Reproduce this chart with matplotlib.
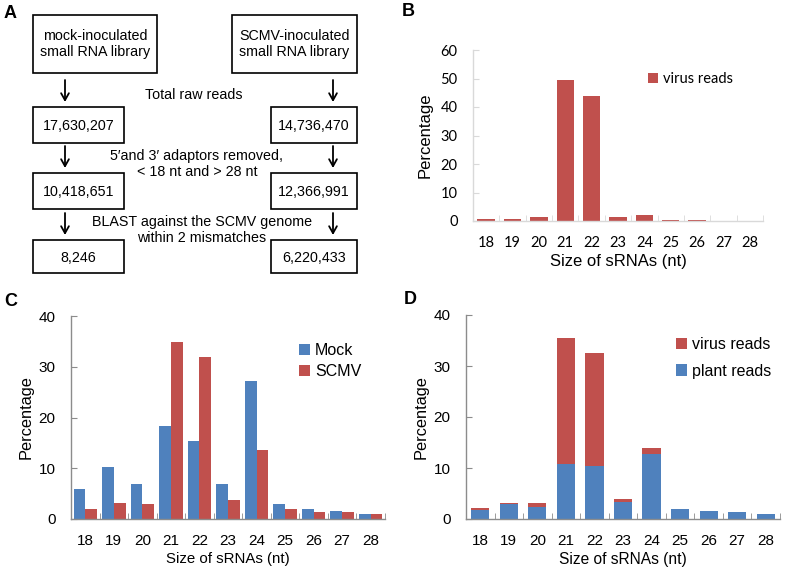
import numpy as np
import matplotlib
matplotlib.use("Agg")
import matplotlib.pyplot as plt
from matplotlib.patches import Rectangle
from matplotlib.ticker import FixedLocator

plt.rcParams["font.family"] = ["Liberation Sans", "DejaVu Sans"]

# ---------------- data ----------------
sizes = ["18", "19", "20", "21", "22", "23", "24", "25", "26", "27", "28"]

# panel B: virus-derived sRNA size distribution (%)
virus_pct = [0.7, 0.8, 1.3, 49.4, 43.7, 1.3, 2.0, 0.4, 0.25, 0.05, 0.03]

# panel C: mock vs SCMV libraries (%)
mock_pct = [5.9, 10.3, 6.8, 18.4, 15.3, 6.9, 27.2, 3.0, 1.9, 1.5, 0.9]
scmv_pct = [1.9, 3.1, 3.0, 34.9, 31.9, 3.8, 13.6, 2.0, 1.4, 1.3, 0.9]

# panel D: SCMV library split into plant / virus reads (%)
plant_pct = [1.8, 2.95, 2.4, 10.7, 10.4, 3.3, 12.8, 1.9, 1.5, 1.4, 1.0]
virus_part = [0.3, 0.25, 0.7, 24.8, 22.2, 0.6, 1.1, 0.1, 0.02, 0.02, 0.01]

# panel A: read counts per library
mock_counts = ["17,630,207", "10,418,651", "8,246"]
scmv_counts = ["14,736,470", "12,366,991", "6,220,433"]
lib_names = ["mock-inoculated\nsmall RNA library", "SCMV-inoculated\nsmall RNA library"]
step_labels = ["Total raw reads",
               "5\u2032and 3\u2032 adaptors removed,\n< 18 nt and > 28 nt",
               "BLAST against the SCMV genome\nwithin 2 mismatches"]

RED = "#C0504D"
BLUE = "#4F81BD"

W, H = 789, 573
fig = plt.figure(figsize=(W / 100, H / 100), dpi=100)


def fx(px):
    return px / W


def fy(py):
    return 1 - py / H


def style_axis(ax, ymax, spine_col, tick_font=None, tick_size=10):
    n = len(sizes)
    x = np.arange(n)
    ax.set_xlim(-0.5, n - 0.5)
    ax.set_ylim(0, ymax)
    ax.set_yticks(np.arange(0, ymax + 1, 10))
    ax.set_xticks(x)
    ax.set_xticklabels(sizes)
    ax.xaxis.set_minor_locator(FixedLocator(np.arange(-0.5, n, 1.0)))
    for s in ["top", "right"]:
        ax.spines[s].set_visible(False)
    for s in ["left", "bottom"]:
        ax.spines[s].set_color(spine_col)
        ax.spines[s].set_linewidth(1.0)
    ax.tick_params(axis="x", which="major", length=0, pad=11, labelsize=tick_size)
    ax.tick_params(axis="x", which="minor", direction="in", length=4, color=spine_col)
    ax.tick_params(axis="y", direction="in", length=4, color=spine_col, pad=11,
                   labelsize=tick_size)
    if tick_font:
        for lab in ax.get_xticklabels() + ax.get_yticklabels():
            lab.set_fontfamily(tick_font)


# ---------------- panel A (flow chart) ----------------
axA = fig.add_axes([0, 0, 1, 1])
axA.set_xlim(0, W)
axA.set_ylim(H, 0)
axA.axis("off")

lib_boxes = [(33, 15, 157, 73), (232, 15, 357, 73)]
for (x0, y0, x1, y1), name in zip(lib_boxes, lib_names):
    axA.add_patch(Rectangle((x0, y0), x1 - x0, y1 - y0, fill=False, lw=1.2, ec="black"))
    axA.text((x0 + x1) / 2, (y0 + y1) / 2, name, ha="center", va="center",
             fontsize=10.3, linespacing=1.25)

rows = [(107, 143), (173, 209), (240, 273)]
for i, (y0, y1) in enumerate(rows):
    for (x0, x1), txt in zip([(33, 124), (271, 357)], [mock_counts[i], scmv_counts[i]]):
        axA.add_patch(Rectangle((x0, y0), x1 - x0, y1 - y0, fill=False, lw=1.2, ec="black"))
        axA.text((x0 + x1) / 2, (y0 + y1) / 2 + 1, txt, ha="center", va="center",
                 fontsize=10.3)

arrow_y = [(80, 102), (146, 168), (213, 235)]
for ya, yb in arrow_y:
    for xa in (65, 333):
        axA.annotate("", xy=(xa, yb), xytext=(xa, ya),
                     arrowprops=dict(arrowstyle="->,head_length=0.5,head_width=0.28",
                                     lw=1.3, color="black", shrinkA=0, shrinkB=0))

step_pos = [(194, 95), (197, 164), (202, 230)]
for (sx, sy), txt in zip(step_pos, step_labels):
    axA.text(sx, sy, txt, ha="center", va="center", fontsize=10.3, linespacing=1.2)

# ---------------- panel B ----------------
axB = fig.add_axes([fx(473), fy(221), fx(763) - fx(473), fy(50) - fy(221)])
x = np.arange(len(sizes))
axB.bar(x, virus_pct, width=0.66, color=RED, label="virus reads")
style_axis(axB, 60, "#D9D9D9", tick_font="Lato", tick_size=10.5)
axB.set_xlabel("Size of sRNAs (nt)", fontsize=12, labelpad=3)
axB.set_ylabel("Percentage", fontsize=12, labelpad=6)
axB.legend(loc="center left", bbox_to_anchor=(fx(648), fy(79)),
           bbox_transform=fig.transFigure, frameon=False, borderpad=0,
           borderaxespad=0, handlelength=0.7, handleheight=0.7,
           handletextpad=0.3, prop={"family": "Lato", "size": 10.5})

# ---------------- panel C ----------------
axC = fig.add_axes([fx(71), fy(519), fx(385) - fx(71), fy(316) - fy(519)])
bw = 0.41
axC.bar(x - bw / 2, mock_pct, width=bw, color=BLUE, label="Mock")
axC.bar(x + bw / 2, scmv_pct, width=bw, color=RED, label="SCMV")
style_axis(axC, 40, "#8C8C8C", tick_size=11)
axC.set_xlabel("Size of sRNAs (nt)", fontsize=10.8, labelpad=3)
axC.set_ylabel("Percentage", fontsize=11.8, labelpad=4)
axC.legend(loc="center left", bbox_to_anchor=(fx(299), fy(361)),
           bbox_transform=fig.transFigure, frameon=False, borderpad=0,
           borderaxespad=0, handlelength=0.7, handleheight=0.7,
           handletextpad=0.3, labelspacing=0.4, fontsize=11.5)

# ---------------- panel D ----------------
axD = fig.add_axes([fx(466), fy(519), fx(780) - fx(466), fy(315) - fy(519)])
axD.bar(x, virus_part, bottom=plant_pct, width=0.64, color=RED, label="virus reads")
axD.bar(x, plant_pct, width=0.64, color=BLUE, label="plant reads")
style_axis(axD, 40, "#8C8C8C", tick_size=11)
axD.set_xlabel("Size of sRNAs (nt)", fontsize=11.2, labelpad=3)
axD.set_ylabel("Percentage", fontsize=11.8, labelpad=4)
axD.legend(loc="center left", bbox_to_anchor=(fx(676), fy(358)),
           bbox_transform=fig.transFigure, frameon=False, borderpad=0,
           borderaxespad=0, handlelength=0.7, handleheight=0.7,
           handletextpad=0.3, labelspacing=0.7, fontsize=11.5)

# ---------------- panel letters ----------------
for letter, (px, py) in zip("ABCD", [(10, 13), (408, 12), (11, 301), (410, 300)]):
    fig.text(fx(px), fy(py), letter, ha="center", va="center",
             fontsize=13, fontweight="bold")

fig.savefig("out.png", dpi=100)
